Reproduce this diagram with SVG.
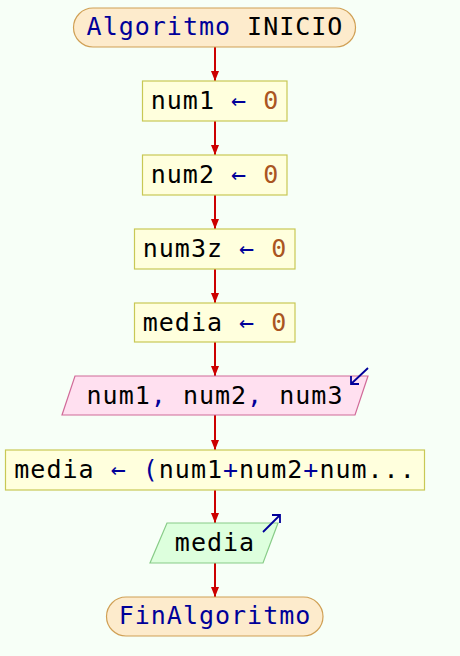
<svg xmlns="http://www.w3.org/2000/svg" width="460" height="656" viewBox="0 0 460 656">
  <style>
    text { font-family: "DejaVu Sans Mono", "Liberation Mono", monospace; font-size: 25px; letter-spacing: 1px; text-anchor: middle; fill: #000000; }
    .kw { fill: #000099; }
    .op { fill: #000099; }
    .num { fill: #aa5522; }
    .term { fill: #fdebcc; stroke: #d0a055; stroke-width: 1.2; }
    .proc { fill: #ffffdd; stroke: #c8c855; stroke-width: 1.2; }
    .input { fill: #ffe0f0; stroke: #d06a98; stroke-width: 1.2; }
    .output { fill: #ddffdd; stroke: #88cc88; stroke-width: 1.2; }
    .flow { stroke: #cc0000; stroke-width: 2; fill: none; }
    .icon { stroke: #000099; stroke-width: 1.8; fill: none; }
  </style>
  <defs>
    <marker id="head" viewBox="0 0 10 8" refX="10" refY="4" markerWidth="10" markerHeight="8" markerUnits="userSpaceOnUse" orient="auto">
      <path d="M0,0 L10,4 L0,8 Z" fill="#cc0000"/>
    </marker>
  </defs>

  <rect width="460" height="656" fill="#f7fff7"/>

  <g id="connectors">
    <line class="flow" x1="215" y1="47" x2="215" y2="81" marker-end="url(#head)"/>
    <line class="flow" x1="215" y1="121" x2="215" y2="155" marker-end="url(#head)"/>
    <line class="flow" x1="215" y1="195" x2="215" y2="229" marker-end="url(#head)"/>
    <line class="flow" x1="215" y1="269" x2="215" y2="303" marker-end="url(#head)"/>
    <line class="flow" x1="215" y1="342" x2="215" y2="376" marker-end="url(#head)"/>
    <line class="flow" x1="215" y1="415" x2="215" y2="450" marker-end="url(#head)"/>
    <line class="flow" x1="215" y1="490" x2="215" y2="523" marker-end="url(#head)"/>
    <line class="flow" x1="215" y1="563" x2="215" y2="597" marker-end="url(#head)"/>
  </g>

  <g id="inicio">
    <rect class="term" x="73.5" y="8" width="282" height="39" rx="19.5"/>
    <text x="215" y="35"><tspan class="kw">Algoritmo</tspan> INICIO</text>
  </g>

  <g id="asig-num1">
    <rect class="proc" x="142.5" y="81" width="144.5" height="40"/>
    <text x="215" y="109">num1 <tspan class="op">←</tspan> <tspan class="num">0</tspan></text>
  </g>

  <g id="asig-num2">
    <rect class="proc" x="142.5" y="155" width="144.5" height="40"/>
    <text x="215" y="183">num2 <tspan class="op">←</tspan> <tspan class="num">0</tspan></text>
  </g>

  <g id="asig-num3z">
    <rect class="proc" x="134.5" y="229" width="160.5" height="40"/>
    <text x="215" y="257">num3z <tspan class="op">←</tspan> <tspan class="num">0</tspan></text>
  </g>

  <g id="asig-media">
    <rect class="proc" x="134.5" y="303" width="160.5" height="39"/>
    <text x="215" y="331">media <tspan class="op">←</tspan> <tspan class="num">0</tspan></text>
  </g>

  <g id="leer">
    <polygon class="input" points="75,376 368,376 355,415 62,415"/>
    <text x="215" y="404">num1<tspan class="op">,</tspan> num2<tspan class="op">,</tspan> num3</text>
    <path class="icon" d="M368,368 L351,384 M351,376 L351,384 L359,384"/>
  </g>

  <g id="calc-media">
    <rect class="proc" x="5.5" y="450" width="419" height="40"/>
    <text x="215" y="478">media <tspan class="op">←</tspan> <tspan class="op">(</tspan>num1<tspan class="op">+</tspan>num2<tspan class="op">+</tspan>num...</text>
  </g>

  <g id="escribir">
    <polygon class="output" points="167,523 278,523 263,563 150,563"/>
    <text x="215" y="551">media</text>
    <path class="icon" d="M263,532 L280,515 M272,515 L280,515 L280,523"/>
  </g>

  <g id="fin">
    <rect class="term" x="106.5" y="597" width="216.5" height="39" rx="19.5"/>
    <text x="215" y="624" class="kw">FinAlgoritmo</text>
  </g>
</svg>
